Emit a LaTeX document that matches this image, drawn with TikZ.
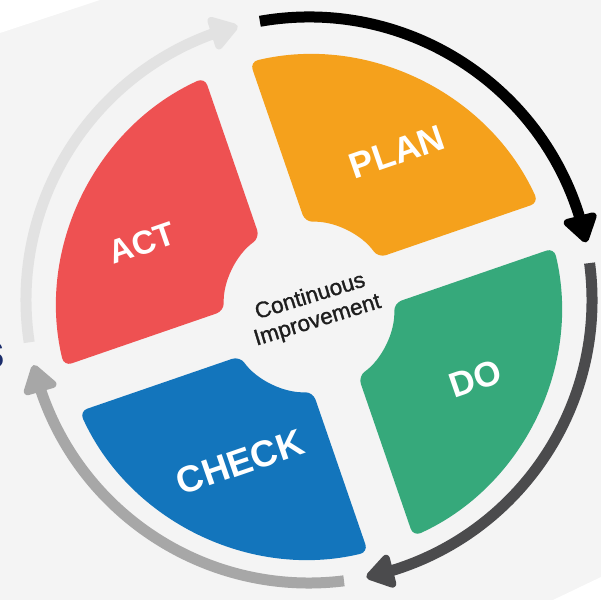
\documentclass[tikz,border=0pt]{standalone}
\usepackage{fontspec}
\setmainfont{Liberation Sans}
\newfontfamily\meiofont{Liberation Sans}[FakeBold=1.2]
\usetikzlibrary{arrows.meta,bending}
\definecolor{fundo}{HTML}{F4F4F4}
\definecolor{vermelho}{HTML}{EE5152}
\definecolor{laranja}{HTML}{F5A11C}
\definecolor{verde}{HTML}{36A97B}
\definecolor{azul}{HTML}{1375BC}
\definecolor{cinzaesc}{HTML}{4B4B4D}
\definecolor{cinza}{HTML}{A7A7A7}
\definecolor{cinzacl}{HTML}{E2E2E2}
\definecolor{marinho}{HTML}{1B2D6B}
\definecolor{texto}{HTML}{1E1E1E}

\begin{document}
\begin{tikzpicture}[x=1pt,y=1pt,
  seta/.style={line width=11pt,-{Triangle[width=38pt,length=31pt,round]}},
  rotulo/.style={text=white,font=\bfseries\fontsize{36}{36}\selectfont,rotate=19,inner sep=0pt}]
  % moldura
  \clip (0,0) rectangle (601,600);
  \fill[fundo] (0,0) rectangle (601,600);
  \fill[white] (0,600) -- (0,567) -- (100,600) -- cycle;
  \fill[white] (553,0) -- (601,23) -- (601,0) -- cycle;

  % centros
  \coordinate (O) at (309,300);
  \coordinate (M) at (309,293);

  % setores
  \begin{scope}[shift={(M)},rotate=19,rounded corners=8pt]
    \fill[laranja] (5.46:252) arc[start angle=5.46,end angle=84.54,radius=252]
      -- (73.6:85) arc[start angle=73.6,end angle=16.4,radius=85] -- cycle;
    \fill[vermelho,rotate=90] (5.46:252) arc[start angle=5.46,end angle=84.54,radius=252]
      -- (73.6:85) arc[start angle=73.6,end angle=16.4,radius=85] -- cycle;
    \fill[azul,rotate=180] (5.46:252) arc[start angle=5.46,end angle=84.54,radius=252]
      -- (73.6:85) arc[start angle=73.6,end angle=16.4,radius=85] -- cycle;
    \fill[verde,rotate=270] (5.46:252) arc[start angle=5.46,end angle=84.54,radius=252]
      -- (73.6:85) arc[start angle=73.6,end angle=16.4,radius=85] -- cycle;
  \end{scope}

  % setas
  \draw[seta,black] ([shift={(100:283)}]O) arc[start angle=100,end angle=11.75,radius=283];
  \draw[seta,cinzaesc] ([shift={(7.5:283)}]O) arc[start angle=7.5,end angle=-78.3,radius=283];
  \draw[seta,cinza] ([shift={(-82.9:283)}]O) arc[start angle=-82.9,end angle=-166.7,radius=283];
  \draw[seta,cinzacl] ([shift={(188.6:283)}]O) arc[start angle=188.6,end angle=104.6,radius=283];

  % textos
  \node[rotulo] (plan) at (397,448) {PLAN};
  \node[rotulo,font=\bfseries\fontsize{33}{33}\selectfont] (act) at (142,357) {ACT};
  \node[rotulo,font=\bfseries\fontsize{35}{35}\selectfont] (do) at (475,221) {DO};
  \node[rotulo,font=\bfseries\fontsize{37}{37}\selectfont] (check) at (240,138) {CHECK};
  \node[text=texto,rotate=17,align=center,inner sep=0pt,font=\meiofont\fontsize{22.5}{25}\selectfont] (ci) at (314,291) {Continuous\\Improvement};
  \node[text=marinho,font=\bfseries\fontsize{50}{50}\selectfont,anchor=base east,inner sep=0pt] (s) at (6,232) {s};
\end{tikzpicture}
\end{document}
